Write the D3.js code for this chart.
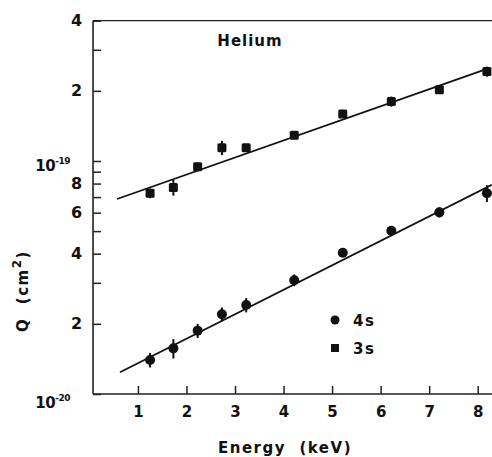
<!DOCTYPE html>
<html>
<head>
<meta charset="utf-8">
<script src="https://cdn.jsdelivr.net/npm/d3@7"></script>
<style>
  html, body { margin: 0; padding: 0; background: #fff; }
  svg { display: block; }
  text { font-family: "DejaVu Sans", "Liberation Sans", sans-serif; font-weight: bold; fill: #111; }
</style>
</head>
<body>
<div id="chart"></div>
<script>
// Energies (keV) of the measurements, shared by both levels
var energy = [1.25, 1.73, 2.23, 2.73, 3.23, 4.22, 5.22, 6.22, 7.21, 8.19]

// cross sections in units of 1e-20 cm^2
var q3s = [7.27, 7.7, 9.45, 11.4, 11.4, 12.9, 15.9, 18.0, 20.2, 24.2]
var err3s = [0.35, 0.6, 0.4, 0.8, 0, 0.5, 0, 0.9, 0, 1.2]
var q4s = [1.40, 1.57, 1.87, 2.20, 2.41, 3.08, 4.04, 5.02, 6.02, 7.27]
var err4s = [0.10, 0.15, 0.13, 0.15, 0.17, 0.18, 0.1, 0, 0.3, 0.6]

// straight fit lines (end points)
var fit3sE = [0.57, 8.25]
var fit3sQ = [6.87, 25.1]
var fit4sE = [0.63, 8.29]
var fit4sQ = [1.24, 7.9]

var xTicks = [1, 2, 3, 4, 5, 6, 7, 8]
var yTicks = [40, 30, 20, 10, 9, 8, 7, 6, 5, 4, 3, 2, 1]
var yLabels = { 40: '4', 20: '2', 8: '8', 6: '6', 4: '4', 2: '2' }
var yDecades = [[10, '-19'], [1, '-20']]

var W = 492
var H = 457

var svg = d3.select('#chart').append('svg')
  .attr('width', W)
  .attr('height', H)

var x = d3.scaleLinear().domain([0, 8]).range([89.4, 477.7])
var y = d3.scaleLog().domain([1, 40]).range([394, 20.7])
var x0 = x(0.075)

//
// Frame
//
svg.append('line')
  .attr('x1', x0).attr('x2', x(8.3))
  .attr('y1', y(40)).attr('y2', y(40))
  .attr('stroke', '#222').attr('stroke-width', 1.3)

svg.append('line')
  .attr('x1', x0).attr('x2', x(8.3))
  .attr('y1', y(1)).attr('y2', y(1))
  .attr('stroke', '#222').attr('stroke-width', 1.6)

svg.append('line')
  .attr('x1', x0).attr('x2', x0)
  .attr('y1', y(40)).attr('y2', y(1))
  .attr('stroke', '#222').attr('stroke-width', 1.6)

//
// Axes
//
var yAxis = svg.append('g')
  .attr('transform', 'translate(' + x0 + ',0)')
  .call(d3.axisLeft(y)
    .tickValues(yTicks)
    .tickSize(-8)
    .tickPadding(11)
    .tickFormat(function (d) { return yLabels[d] || '' }))
yAxis.select('.domain').remove()
yAxis.selectAll('line').attr('stroke', '#222').attr('stroke-width', 1.5)
yAxis.selectAll('text').style('font-size', '16px').attr('fill', '#111')

var xAxis = svg.append('g')
  .attr('transform', 'translate(0,' + y(1) + ')')
  .call(d3.axisBottom(x)
    .tickValues(xTicks)
    .tickSize(-8)
    .tickPadding(12)
    .tickFormat(d3.format('d')))
xAxis.select('.domain').remove()
xAxis.selectAll('line').attr('stroke', '#222').attr('stroke-width', 1.5)
xAxis.selectAll('text').style('font-size', '15px').attr('fill', '#111')

// 10^-19 and 10^-20 labels
yDecades.forEach(function (d) {
  var t = svg.append('text')
    .attr('x', 70)
    .attr('y', y(d[0]) + (d[0] === 1 ? 14 : 10))
    .attr('text-anchor', 'end')
    .style('font-size', '15px')
    .style('letter-spacing', '-0.5px')
  t.append('tspan').text('10')
  t.append('tspan').attr('dy', -7).style('font-size', '9px').text(d[1])
})

//
// Titles
//
svg.append('text')
  .attr('x', 250).attr('y', 46)
  .attr('text-anchor', 'middle')
  .style('font-size', '15px')
  .style('letter-spacing', '1px')
  .text('Helium')

svg.append('text')
  .attr('x', 285).attr('y', 453)
  .attr('text-anchor', 'middle')
  .style('font-size', '15px')
  .style('letter-spacing', '1.5px')
  .attr('xml:space', 'preserve')
  .text('Energy  (keV)')

var yl = svg.append('text')
  .attr('transform', 'translate(28,291) rotate(-90)')
  .attr('text-anchor', 'middle')
  .style('font-size', '15px')
  .style('letter-spacing', '1.5px')
  .attr('xml:space', 'preserve')
yl.append('tspan').text('Q  (cm')
yl.append('tspan').attr('dy', -7).style('font-size', '12px').text('2')
yl.append('tspan').attr('dy', 7).text(')')

//
// Fit lines
//
var line = d3.line()
  .x(function (d) { return x(d[0]) })
  .y(function (d) { return y(d[1]) })

;[[fit3sE, fit3sQ], [fit4sE, fit4sQ]].forEach(function (f) {
  svg.append('path')
    .datum(d3.zip(f[0], f[1]))
    .attr('d', line)
    .attr('fill', 'none')
    .attr('stroke', '#111')
    .attr('stroke-width', 1.8)
})

//
// Data points with error bars
//
function drawSeries (qs, errs, shape) {
  var pts = energy.map(function (e, i) { return { e: e, q: qs[i], err: errs[i] } })
  var g = svg.append('g')
  g.selectAll('line.err').data(pts.filter(function (p) { return p.err > 0 }))
    .enter().append('line')
    .attr('class', 'err')
    .attr('x1', function (p) { return x(p.e) })
    .attr('x2', function (p) { return x(p.e) })
    .attr('y1', function (p) { return y(p.q + p.err) })
    .attr('y2', function (p) { return y(p.q - p.err) })
    .attr('stroke', '#111')
    .attr('stroke-width', 2)
  if (shape === 'circle') {
    g.selectAll('circle').data(pts).enter().append('circle')
      .attr('cx', function (p) { return x(p.e) })
      .attr('cy', function (p) { return y(p.q) })
      .attr('r', 5)
      .attr('fill', '#111')
  } else {
    g.selectAll('rect').data(pts).enter().append('rect')
      .attr('x', function (p) { return x(p.e) - 4.5 })
      .attr('y', function (p) { return y(p.q) - 4.5 })
      .attr('width', 9)
      .attr('height', 9)
      .attr('rx', 1.5)
      .attr('fill', '#111')
  }
}

drawSeries(q3s, err3s, 'square')
drawSeries(q4s, err4s, 'circle')

//
// Legend
//
svg.append('circle').attr('cx', 335).attr('cy', 320).attr('r', 4.5).attr('fill', '#111')
svg.append('rect').attr('x', 331).attr('y', 344).attr('width', 8).attr('height', 8).attr('fill', '#111')
svg.append('text').attr('x', 353).attr('y', 326)
  .style('font-size', '15px').style('letter-spacing', '1.5px').text('4s')
svg.append('text').attr('x', 353).attr('y', 354)
  .style('font-size', '15px').style('letter-spacing', '1.5px').text('3s')
</script>
</body>
</html>
